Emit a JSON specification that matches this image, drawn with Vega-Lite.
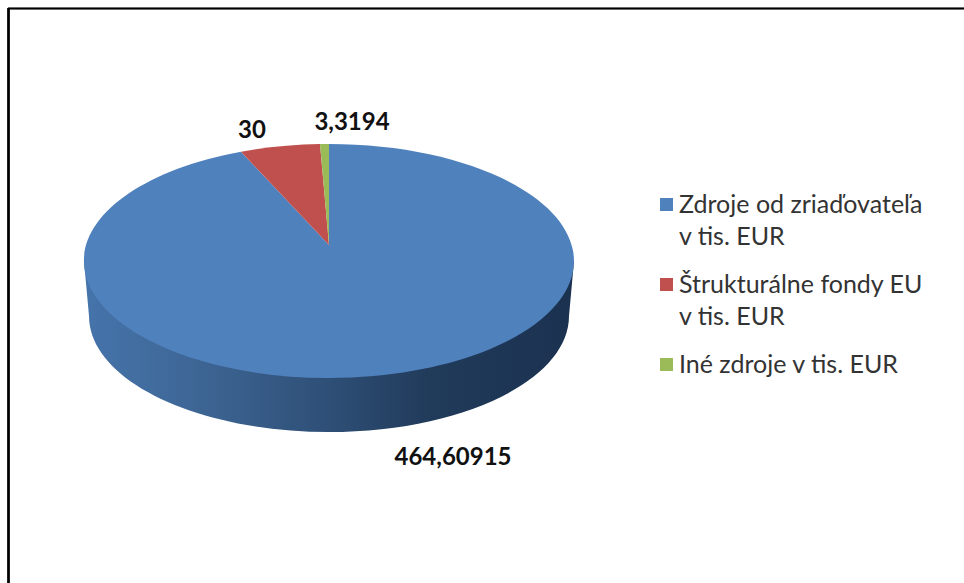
{"$schema":"https://vega.github.io/schema/vega-lite/v6.json","width":956,"height":575,"autosize":{"type":"none"},"padding":{"left":8,"top":8,"right":0,"bottom":0},"background":"white","view":{"stroke":null},"config":{"style":{"guide-label":{"lineHeight":32}}},"data":{"values":[{"zdroj":"Zdroje od zriaďovateľa v tis. EUR","hodnota":464.60915,"popis":"464,60915"},{"zdroj":"Štrukturálne fondy EU v tis. EUR","hodnota":30,"popis":"30"},{"zdroj":"Iné zdroje v tis. EUR","hodnota":3.3194,"popis":"3,3194"}]},"layer":[{"mark":{"type":"rule","stroke":"#000","strokeWidth":1.5},"encoding":{"x":{"value":0},"x2":{"value":956},"y":{"value":0.5}}},{"mark":{"type":"rule","stroke":"#000","strokeWidth":2},"encoding":{"x":{"value":0.5},"y":{"value":0},"y2":{"value":575}}},{"transform":[{"filter":"datum.popis==='464,60915'"}],"mark":{"type":"point","filled":true,"opacity":1,"size":4,"xOffset":-157,"yOffset":-34.5,"shape":"M-245 0L-240 55A240 116 0 0 0 240 55L245 0Z","fill":{"gradient":"linear","x1":0,"y1":0,"x2":1,"y2":0,"stops":[{"offset":0,"color":"#4574ab"},{"offset":0.2,"color":"#3f6898"},{"offset":0.5,"color":"#2e4f76"},{"offset":0.7,"color":"#213b5b"},{"offset":1,"color":"#1b3150"}]}},"encoding":{}},{"mark":{"type":"point","filled":true,"opacity":1,"size":4,"xOffset":-157,"yOffset":-34.5},"encoding":{"color":{"field":"zdroj","type":"nominal","sort":null,"scale":{"range":["#4f81bd","#c0504d","#9bbb59"]},"legend":{"title":null,"orient":"none","legendX":646,"legendY":184,"symbolType":"square","symbolSize":170,"symbolStrokeWidth":0,"labelFont":"Lato","labelFontSize":25,"labelColor":"#333333","labelLimit":300,"labelOffset":0,"rowPadding":22,"labelExpr":"datum.label==='Iné zdroje v tis. EUR'?datum.label:split(replace(datum.label,' v tis',' |v tis'),' |')"}},"shape":{"field":"popis","type":"nominal","sort":null,"legend":null,"scale":{"range":["M0 -16L0 -117A245 117 0 1 1 -88 -109.2Z","M0 -16L-88 -109.2A245 117 0 0 1 -9 -116.9Z","M0 -16L-9 -116.9A245 117 0 0 1 0 -117Z"]}}}},{"transform":[{"filter":"datum.popis==='464,60915'"}],"mark":{"type":"text","font":"Lato","fontWeight":"bold","fontSize":24,"color":"#111111","baseline":"middle","xOffset":-33,"yOffset":162.5},"encoding":{"text":{"field":"popis"}}},{"transform":[{"filter":"datum.popis==='30'"}],"mark":{"type":"text","font":"Lato","fontWeight":"bold","fontSize":24,"color":"#111111","baseline":"middle","xOffset":-234,"yOffset":-164.5},"encoding":{"text":{"field":"popis"}}},{"transform":[{"filter":"datum.popis==='3,3194'"}],"mark":{"type":"text","font":"Lato","fontWeight":"bold","fontSize":24,"color":"#111111","baseline":"middle","xOffset":-134,"yOffset":-172.5},"encoding":{"text":{"field":"popis"}}}]}
